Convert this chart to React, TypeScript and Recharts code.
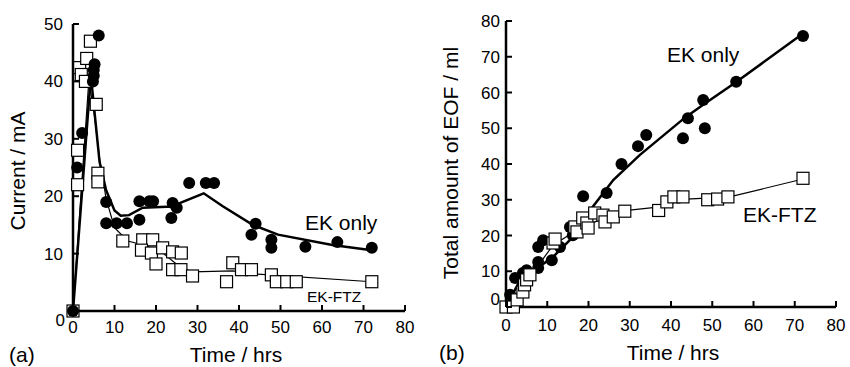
import React from 'react';
import { ComposedChart, XAxis, YAxis, Scatter, Line } from 'recharts';

// ---------- data (a): Current / mA vs Time / hrs ----------
const currentEkOnlyPoints: number[][] = [
  [0, 0], [1, 25], [2.2, 31], [4.8, 40], [5, 41], [5, 42], [5.2, 43], [6.2, 48],
  [8, 19], [8, 15.3], [10.5, 15.3], [13, 15.3], [16, 15.9], [16, 19.1], [18.4, 19.1],
  [19.3, 19.1], [23.7, 16.2], [25, 18], [24, 18.8], [28, 22.3], [32, 22.3], [34, 22.3],
  [43, 13.3], [44, 15.2], [47.8, 12.4], [47.8, 11], [56, 11.2], [63.7, 12], [72, 11],
];
const currentEkFtzPoints: number[][] = [
  [0, 0], [1.1, 28], [1.1, 22], [1.6, 42.4], [2, 41.2], [3, 40], [3.3, 44], [4.2, 47],
  [5.6, 36], [6, 24], [6, 22.5], [12, 12.2], [16.8, 12.4], [19.2, 12.4], [16.5, 10.6],
  [18.9, 10.1], [20, 8.2], [21.6, 11], [24, 10.3], [26.1, 10.1], [24, 7.2], [26, 7.2],
  [28.8, 6.1], [37, 5.1], [38.5, 8.4], [40.6, 7.2], [43, 7.2], [47.8, 6.3], [49, 5.1],
  [51.5, 5.1], [53.8, 5.1], [72, 5.1],
];
const currentEkOnlyCurve: number[][] = [
  [0, 0], [4.3, 41], [5, 36], [6.4, 26], [8, 21], [10, 17.5], [11.5, 16.6], [13.5, 16.7],
  [16.8, 18], [24, 18.2], [25.7, 18.8], [31.5, 20.5], [36, 18.3], [43.3, 15], [49.4, 13.3],
  [62.5, 11.5], [72, 10.6],
];
const currentEkFtzCurve: number[][] = [
  [0, 0], [3.8, 40], [5, 35], [6.5, 26], [8, 19.5], [10, 14.5], [13.2, 12.2], [17, 11.5],
  [21, 10.5], [25.7, 7.7], [28.8, 6.8], [38.5, 7], [43.3, 6.5], [72, 5.1],
];

// ---------- data (b): Total amount of EOF / ml vs Time / hrs ----------
const eofEkOnlyPoints: number[][] = [
  [1, 3.4], [2.2, 8.1], [4.1, 9.5], [5, 10.3], [7.8, 12.6], [7.8, 10.9], [7.8, 16.8],
  [9, 18.7], [11.1, 13.1], [13.1, 16.8], [15.5, 22.4], [16.2, 20.1], [18.7, 31],
  [24.4, 31.9], [28, 40], [32, 45], [34, 48.1], [42.9, 47.2], [44.1, 52.8], [47.8, 57.9],
  [48.2, 50], [55.8, 63], [72, 75.8],
];
const eofEkFtzPoints: number[][] = [
  [0, 0], [1.8, 0], [2.7, 2], [4.1, 4.2], [4.5, 6.2], [5, 7.6], [5.8, 9], [11.4, 17.9],
  [11.9, 19], [16.7, 22.4], [17.2, 21], [18.6, 24.9], [19.6, 23.5], [19.9, 22.1],
  [21.5, 26.3], [23.5, 25.7], [24, 23.8], [26, 25.2], [28.8, 26.8], [37, 27], [39, 29.4],
  [40.7, 30.8], [42.9, 30.8], [48.9, 30], [51.3, 30.2], [53.8, 30.8], [72, 36],
];
const eofEkOnlyCurve: number[][] = [
  [0, 0], [3.4, 7.5], [11.4, 14], [17.2, 20.7], [21, 28], [26, 35.5], [32.4, 42.5],
  [43.3, 52.9], [47.7, 56.5], [55.9, 63], [72, 76.5],
];
const eofEkFtzCurve: number[][] = [
  [0, 0], [2.7, 3.9], [5.8, 8.4], [11.4, 17.3], [17.9, 22], [24.4, 25.2], [30, 27.1],
  [37.3, 28], [43.8, 30.2], [54.2, 30.8], [72, 35.8],
];

const timeTicks = [0, 10, 20, 30, 40, 50, 60, 70, 80];
const currentTicks = [0, 10, 20, 30, 40, 50];
const eofTicks = [0, 10, 20, 30, 40, 50, 60, 70, 80];

const FONT = '"Liberation Sans", Arial, Helvetica, sans-serif';

const toPts = (a: number[][]) => a.map(([x, y]) => ({ x, y }));

const makeXTick = (labelOffset: number) => (props: any) => {
  const { x, y, payload } = props;
  return (
    <g>
      <line x1={x} x2={x} y1={y} y2={y - 6} stroke="#000" strokeWidth={2} />
      <text x={x} y={y + labelOffset} textAnchor="middle" fontSize={17} fontFamily={FONT} fill="#000">
        {payload.value}
      </text>
    </g>
  );
};

const makeYTick = (gap: number, zeroDy: number, zeroGap: number) => (props: any) => {
  const { x, y, payload } = props;
  const isZero = payload.value === 0;
  return (
    <g>
      <line x1={x} x2={x + 6} y1={y} y2={y} stroke="#000" strokeWidth={2} />
      <text
        x={x - (isZero ? zeroGap : gap)}
        y={y + 6 + (isZero ? zeroDy : 0)}
        textAnchor="end"
        fontSize={17}
        fontFamily={FONT}
        fill="#000"
      >
        {payload.value}
      </text>
    </g>
  );
};

const circleShape = (p: any) => <circle cx={p.cx} cy={p.cy} r={6} fill="#000" />;
const squareShape = (p: any) => (
  <rect x={p.cx - 6} y={p.cy - 6} width={12} height={12} fill="#fff" stroke="#000" strokeWidth={1.2} />
);

const axisLine = { stroke: '#000', strokeWidth: 2.5 };

export default function App() {
  return (
    <div style={{ position: 'absolute', left: 0, top: 0, width: 850, height: 367, background: '#fff' }}>
      <div style={{ position: 'absolute', left: 0, top: 0 }}>
        <ComposedChart width={420} height={367} margin={{ top: 24, right: 15, bottom: 0, left: 0 }}>
          <XAxis
            type="number"
            dataKey="x"
            domain={[0, 80]}
            ticks={timeTicks}
            interval={0}
            height={56}
            tickSize={0}
            tickMargin={0}
            axisLine={axisLine}
            tickLine={false}
            tick={makeXTick(22)}
          />
          <XAxis xAxisId="top" orientation="top" type="number" domain={[0, 80]} height={0} tick={false} tickLine={false} axisLine={axisLine} />
          <YAxis
            type="number"
            dataKey="y"
            domain={[0, 50]}
            ticks={currentTicks}
            interval={0}
            width={73}
            tickSize={0}
            tickMargin={0}
            axisLine={axisLine}
            tickLine={false}
            tick={makeYTick(10, 9, 8)}
          />
          <YAxis yAxisId="right" orientation="right" type="number" domain={[0, 50]} width={0} tick={false} tickLine={false} axisLine={axisLine} />
          <Scatter data={toPts(currentEkFtzPoints)} shape={squareShape} isAnimationActive={false} />
          <Scatter data={toPts(currentEkOnlyPoints)} shape={circleShape} isAnimationActive={false} />
          <Line data={toPts(currentEkFtzCurve)} dataKey="y" type="linear" dot={false} stroke="#000" strokeWidth={1.2} isAnimationActive={false} />
          <Line data={toPts(currentEkOnlyCurve)} dataKey="y" type="linear" dot={false} stroke="#000" strokeWidth={2.5} isAnimationActive={false} />
        </ComposedChart>
      </div>
      <div style={{ position: 'absolute', left: 420, top: 0 }}>
        <ComposedChart width={430} height={367} margin={{ top: 21, right: 14, bottom: 0, left: 0 }}>
          <XAxis
            type="number"
            dataKey="x"
            domain={[0, 80]}
            ticks={timeTicks}
            interval={0}
            height={60}
            tickSize={0}
            tickMargin={0}
            axisLine={axisLine}
            tickLine={false}
            tick={makeXTick(24)}
          />
          <XAxis xAxisId="top" orientation="top" type="number" domain={[0, 80]} height={0} tick={false} tickLine={false} axisLine={axisLine} />
          <YAxis
            type="number"
            dataKey="y"
            domain={[0, 80]}
            ticks={eofTicks}
            interval={0}
            width={86}
            tickSize={0}
            tickMargin={0}
            axisLine={axisLine}
            tickLine={false}
            tick={makeYTick(6, -8, 6)}
          />
          <YAxis yAxisId="right" orientation="right" type="number" domain={[0, 80]} width={0} tick={false} tickLine={false} axisLine={axisLine} />
          <Line data={toPts(eofEkOnlyCurve)} dataKey="y" type="linear" dot={false} stroke="#000" strokeWidth={2.5} isAnimationActive={false} />
          <Line data={toPts(eofEkFtzCurve)} dataKey="y" type="linear" dot={false} stroke="#000" strokeWidth={1.2} isAnimationActive={false} />
          <Scatter data={toPts(eofEkOnlyPoints)} shape={circleShape} isAnimationActive={false} />
          <Scatter data={toPts(eofEkFtzPoints)} shape={squareShape} isAnimationActive={false} />
        </ComposedChart>
      </div>
      <svg width={850} height={367} style={{ position: 'absolute', left: 0, top: 0, pointerEvents: 'none' }} fontFamily={FONT}>
        <text x={25} y={171} transform="rotate(-90, 25, 171)" textAnchor="middle" fontSize={21} fill="#000">Current / mA</text>
        <text x={458} y={163} transform="rotate(-90, 458, 163)" textAnchor="middle" fontSize={21} fill="#000">Total amount of EOF / ml</text>
        <text x={236} y={362} textAnchor="middle" fontSize={21} fill="#000">Time / hrs</text>
        <text x={673} y={360} textAnchor="middle" fontSize={21} fill="#000">Time / hrs</text>
        <text x={9} y={362} fontSize={21} fill="#000">(a)</text>
        <text x={439} y={360} fontSize={21} fill="#000">(b)</text>
        <text x={305} y={230} fontSize={21} fill="#000">EK only</text>
        <text x={307} y={302} fontSize={15.5} fill="#000">EK-FTZ</text>
        <text x={667} y={62} fontSize={21} fill="#000">EK only</text>
        <text x={743} y={222} fontSize={21} fill="#000">EK-FTZ</text>
      </svg>
    </div>
  );
}
